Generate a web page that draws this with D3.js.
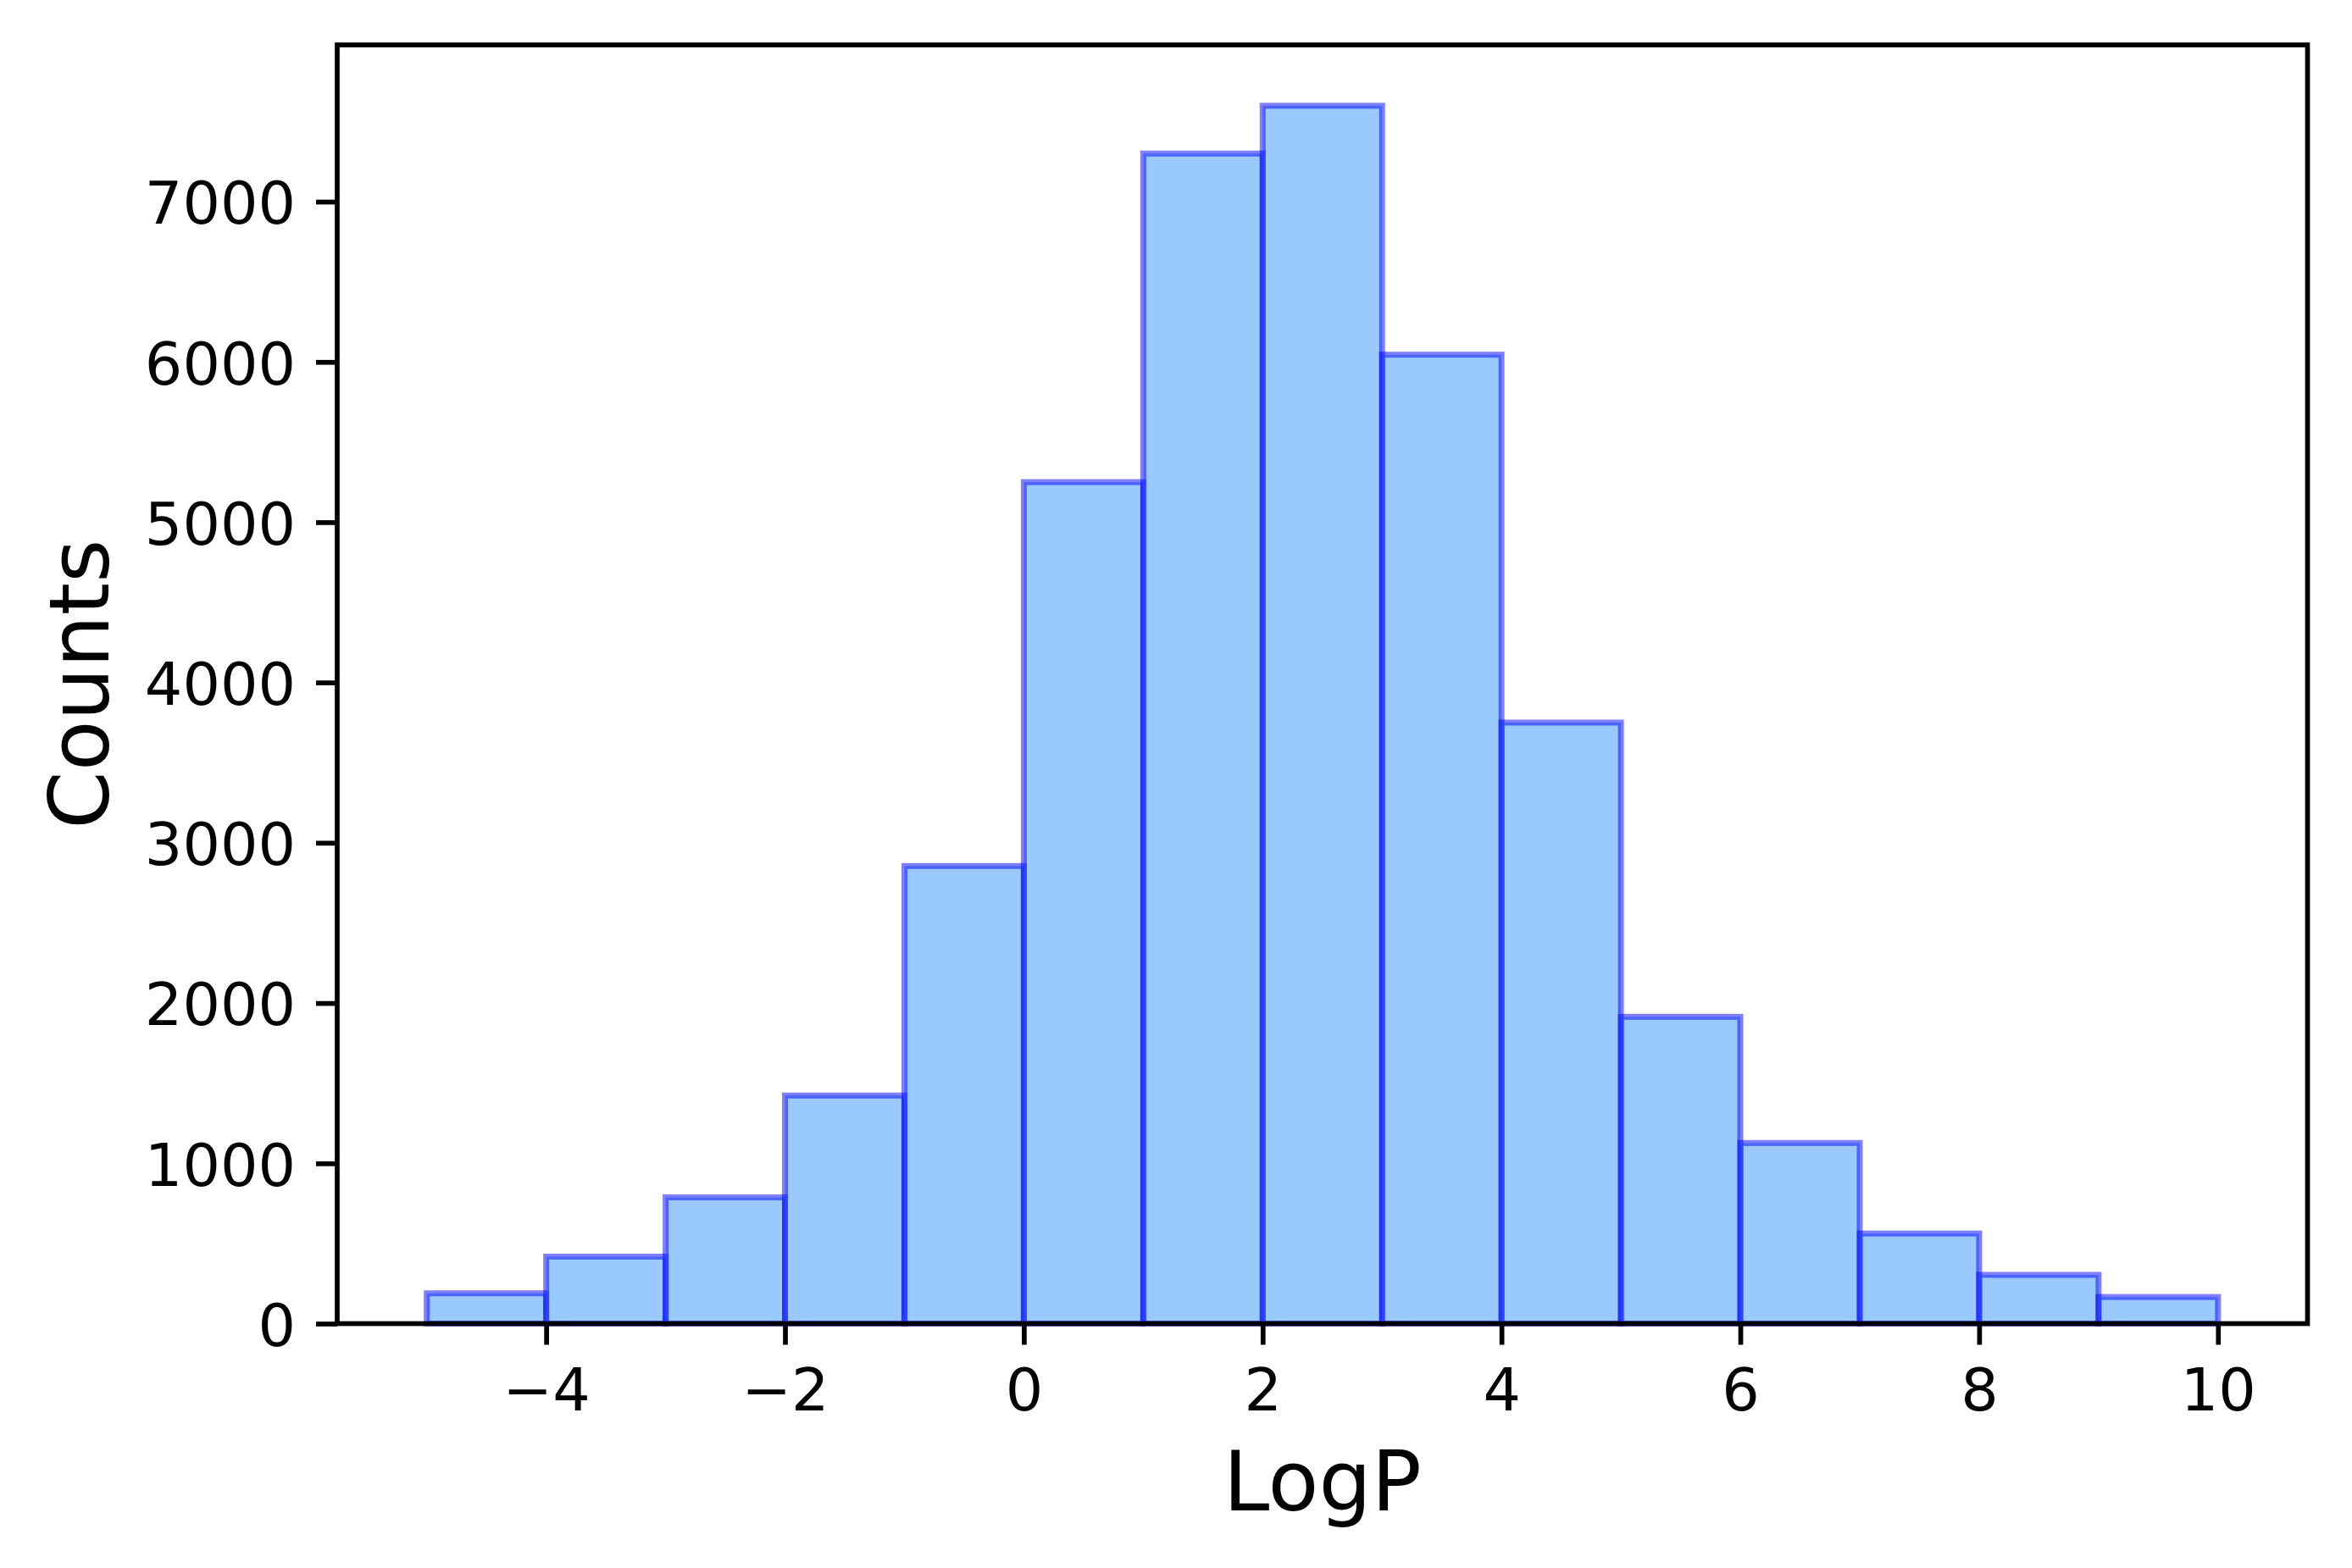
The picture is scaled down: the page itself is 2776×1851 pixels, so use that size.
<!DOCTYPE html>
<html>
<head>
<meta charset="utf-8">
<title>LogP histogram</title>
<style>
body { margin: 0; background: #fff; }
svg { display: block; font-family: "DejaVu Sans", sans-serif; }
.tick text { fill: #000; }
.label { font-size: 98px; fill: #000; }
</style>
</head>
<body>
<svg width="2776" height="1851"></svg>
<script src="https://cdn.jsdelivr.net/npm/d3@7"></script>
<script>

// histogram bins (left edges, width 1) and counts
var binStarts = [-5, -4, -3, -2, -1, 0, 1, 2, 3, 4, 5, 6, 7, 8, 9];
var counts = [189, 418, 788, 1423, 2855, 5250, 7300, 7598, 6045, 3750, 1914, 1127, 562, 304, 166];
var binWidth = 1;
var xTicks = [-4, -2, 0, 2, 4, 6, 8, 10];
var yTicks = [0, 1000, 2000, 3000, 4000, 5000, 6000, 7000];

var svg = d3.select("svg"),
    margin = {top: 53, right: 52.5, bottom: 288.5, left: 398},
    width = +svg.attr("width") - margin.left - margin.right,
    height = +svg.attr("height") - margin.top - margin.bottom;

var data = binStarts.map(function(b, i) { return {x0: b, x1: b + binWidth, n: counts[i]}; });

// matplotlib style 5% margins
var xmin = d3.min(binStarts), xmax = d3.max(binStarts) + binWidth,
    pad = (xmax - xmin) * 0.05;
var x = d3.scaleLinear().domain([xmin - pad, xmax + pad]).range([0, width]);
var y = d3.scaleLinear().domain([0, d3.max(counts) * 1.05]).range([height, 0]);

var g = svg.append("g")
    .attr("transform", "translate(" + margin.left + "," + margin.top + ")");

g.selectAll(".bar")
  .data(data)
  .enter().append("rect")
    .attr("class", "bar")
    .attr("x", function(d) { return x(d.x0); })
    .attr("y", function(d) { return y(d.n); })
    .attr("width", function(d) { return x(d.x1) - x(d.x0); })
    .attr("height", function(d) { return height - y(d.n); })
    .attr("fill", "rgb(51,147,255)")
    .attr("fill-opacity", 0.5)
    .attr("stroke", "blue")
    .attr("stroke-opacity", 0.5)
    .attr("stroke-width", 7);

var xAxis = g.append("g")
    .attr("transform", "translate(0," + height + ")")
    .call(d3.axisBottom(x).tickValues(xTicks).tickSize(25).tickPadding(0).tickSizeOuter(0));
xAxis.selectAll(".tick text").attr("dy", null).attr("y", 102.5);

var yAxis = g.append("g")
    .call(d3.axisLeft(y).tickValues(yTicks).tickFormat(d3.format("d")).tickSize(25).tickPadding(24).tickSizeOuter(0));
yAxis.selectAll(".tick text").attr("dy", "0.37em");

svg.selectAll(".domain").remove();
svg.selectAll(".tick line").attr("stroke", "#000").attr("stroke-width", 5.7);
svg.selectAll(".tick text").attr("font-family", "DejaVu Sans").attr("font-size", 70);

// frame
g.append("rect")
    .attr("width", width)
    .attr("height", height)
    .attr("fill", "none")
    .attr("stroke", "#000")
    .attr("stroke-width", 5.7);

svg.append("text")
    .attr("class", "label")
    .attr("x", margin.left + width / 2)
    .attr("y", 1782.7)
    .attr("text-anchor", "middle")
    .text("LogP");

svg.append("text")
    .attr("class", "label")
    .attr("transform", "translate(128," + (margin.top + height / 2) + ") rotate(-90)")
    .attr("text-anchor", "middle")
    .text("Counts");

</script>
</body>
</html>
